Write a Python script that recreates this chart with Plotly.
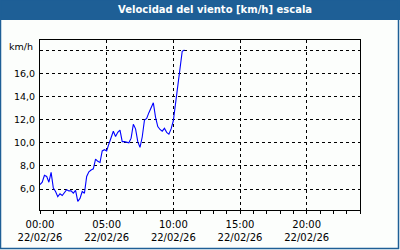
import plotly.graph_objects as go

# time in hours since 00:00 on 22/02/26, 10-minute steps
hours = [i / 6 for i in range(66)]
wind = [6.4, 6.6, 7.2, 7.1, 6.6, 7.45, 6.1, 5.8, 5.35, 5.6, 5.45, 5.7,
        5.95, 5.85, 5.85, 5.65, 5.9, 4.95, 5.2, 5.8, 5.65, 7.1, 7.5, 7.65,
        7.75, 8.6, 8.4, 8.3, 9.3, 9.4, 9.3, 9.9, 10.4, 11.0, 10.55, 10.9,
        11.1, 10.1, 10.1, 10.05, 10.0, 10.4, 11.6, 11.2, 10.1, 9.6, 10.5, 11.95,
        12.1, 12.6, 13.1, 13.45, 12.2, 11.4, 11.15, 11.0, 11.25, 10.9, 10.75, 11.2,
        11.9, 13.3, 14.8, 16.2, 17.9, 18.0]

x_ticks = [0, 5, 10, 15, 20]
x_labels = ["00:00<br>22/02/26", "05:00<br>22/02/26", "10:00<br>22/02/26",
            "15:00<br>22/02/26", "20:00<br>22/02/26"]
y_ticks = [6, 8, 10, 12, 14, 16, 18]
y_labels = ["6,0", "8,0", "10,0", "12,0", "14,0", "16,0", ""]
title_text = "Velocidad del viento [km/h] escala"
unit_text = "km/h"

BLUE = "#1e5f96"
BG = "#fcfefc"
FONT = "DejaVu Sans"

fig = go.Figure()
fig.add_trace(go.Scatter(x=hours, y=wind, mode="lines",
                         line=dict(color="#0000ff", width=1.1), hoverinfo="skip"))

fig.update_layout(
    width=400, height=250,
    margin=dict(l=40, r=40, t=40, b=40),
    paper_bgcolor=BG, plot_bgcolor=BG,
    showlegend=False,
    font=dict(family=FONT, size=9.5, color="#000000"),
)
fig.update_xaxes(
    range=[0, 24], tickmode="array", tickvals=x_ticks, ticktext=x_labels,
    showgrid=True, gridcolor="#000000", gridwidth=1, griddash="3px,3px",
    showline=True, linecolor="#000000", linewidth=1, mirror=True,
    ticks="outside", ticklen=3, tickcolor="#000000", zeroline=False,
    minor=dict(dtick=1, tick0=0, ticks="outside", ticklen=3, tickcolor="#000000", showgrid=False),
    tickfont=dict(family=FONT, size=10), ticklabelstandoff=2, automargin=False,
)
fig.update_yaxes(
    range=[4.2, 18.87], tickmode="array", tickvals=y_ticks, ticktext=y_labels,
    showgrid=True, gridcolor="#000000", gridwidth=1, griddash="3px,3px",
    showline=True, linecolor="#000000", linewidth=1, mirror=True,
    ticks="", zeroline=False, ticklabelstandoff=2, automargin=False,
    tickfont=dict(family=FONT, size=9.5),
)

# title bar and outer frame
fig.add_shape(type="rect", xref="paper", yref="paper", x0=-0.125, x1=1.125,
              y0=1.0 + 20 / 170, y1=1.0 + 40 / 170, fillcolor=BLUE, line_width=0, layer="below")
fig.add_shape(type="rect", xref="paper", yref="paper", x0=-0.125 + 0.5 / 320, x1=1.125 - 1.5 / 320,
              y0=-40 / 170 + 1.5 / 170, y1=1.0 + 40 / 170, fillcolor="rgba(0,0,0,0)",
              line=dict(color=BLUE, width=1.5), layer="below")
fig.add_annotation(xref="paper", yref="paper", x=(215 - 40) / 320, y=1.0 + 30 / 170,
                   text="<b>" + title_text + "</b>", showarrow=False,
                   font=dict(family=FONT, size=10, color="#ffffff"),
                   xanchor="center", yanchor="middle")
fig.add_annotation(xref="paper", yref="paper", x=-5 / 320, y=1.0 - 6 / 170,
                   text=unit_text, showarrow=False, font=dict(family=FONT, size=9.5),
                   xanchor="right", yanchor="middle")

fig.write_html("out.html")
